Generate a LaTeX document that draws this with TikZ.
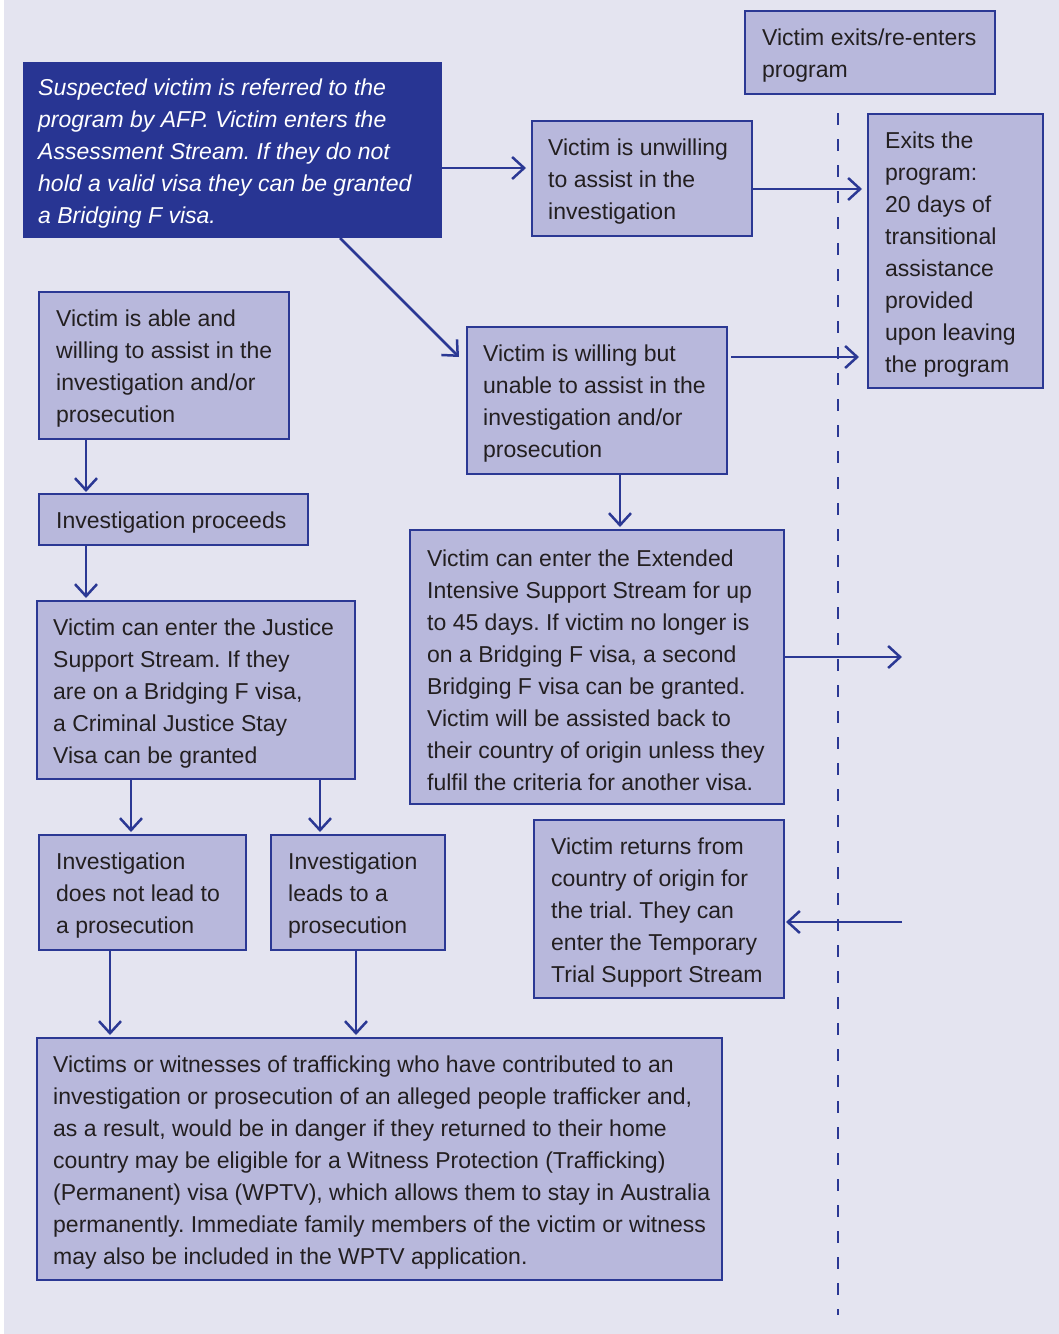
\documentclass[tikz,border=0pt]{standalone}
\usepackage{fontspec}
\setmainfont{Liberation Sans}
\usetikzlibrary{arrows.meta,calc}
\definecolor{bg}{HTML}{E4E4F0}
\definecolor{boxfill}{HTML}{B8B8DC}
\definecolor{dblue}{HTML}{2B3894}
\definecolor{dark}{HTML}{283593}
\definecolor{txt}{HTML}{231F20}
\frenchspacing
\begin{document}
\begin{tikzpicture}[x=1pt,y=-1pt,
  box/.style={draw=dblue, line width=2.5pt, fill=boxfill, anchor=north west, outer sep=0pt, inner sep=0pt},
  darkbox/.style={fill=dark, anchor=north west, outer sep=0pt, inner sep=0pt},
  lbl/.style={anchor=west, align=left, inner sep=0pt, yshift=-3.5pt, text=txt, font=\fontsize{23}{32}\selectfont\frenchspacing},
  dlbl/.style={anchor=west, align=left, inner sep=0pt, yshift=-3.5pt, text=white, font=\fontsize{23}{32}\selectfont\itshape\frenchspacing},
  arr/.style={draw=dblue, line width=2.5pt, -{Straight Barb[length=12pt,width=22pt]}},
  sep/.style={draw=dblue, line width=2pt, dash pattern=on 12pt off 14pt}
]
\useasboundingbox (0,0) rectangle (1059,1334);
\fill[white] (0,0) rectangle (1059,1334);
\fill[bg] (4,0) rectangle (1059,1334);

% boxes
\node[darkbox, minimum width=419pt, minimum height=176pt] (b1) at (23,62) {};
\node[dlbl] (b1t) at ([xshift=15pt]b1.west) {Suspected victim is referred to the\\program by AFP. Victim enters the\\Assessment Stream. If they do not\\hold a valid visa they can be granted\\a Bridging F visa.};

\node[box, minimum width=250pt, minimum height=83pt] (exre) at (745,11) {};
\node[lbl] (exret) at ([xshift=17pt]exre.west) {Victim exits/re-enters\\program};

\node[box, minimum width=220pt, minimum height=115pt] (unw) at (532,121) {};
\node[lbl] (unwt) at ([xshift=16pt]unw.west) {Victim is unwilling\\to assist in the\\investigation};

\node[box, minimum width=175pt, minimum height=274pt] (exits) at (868,114) {};
\node[lbl] (exitst) at ([xshift=17pt]exits.west) {Exits the\\program:\\20 days of\\transitional\\assistance\\provided\\upon leaving\\the program};

\node[box, minimum width=250pt, minimum height=147pt] (able) at (39,292) {};
\node[lbl] (ablet) at ([xshift=17pt]able.west) {Victim is able and\\willing to assist in the\\investigation and/or\\prosecution};

\node[box, minimum width=260pt, minimum height=147pt] (wb) at (467,327) {};
\node[lbl] (wbt) at ([xshift=16pt]wb.west) {Victim is willing but\\unable to assist in the\\investigation and/or\\prosecution};

\node[box, minimum width=269pt, minimum height=51pt] (proc) at (39,494) {};
\node[lbl] (proct) at ([xshift=17pt]proc.west) {Investigation proceeds};

\node[box, minimum width=318pt, minimum height=178pt] (just) at (37,601) {};
\node[lbl] (justt) at ([xshift=16pt]just.west) {Victim can enter the Justice\\Support Stream. If they\\are on a Bridging F visa,\\a Criminal Justice Stay\\Visa can be granted};

\node[box, minimum width=374pt, minimum height=274pt] (ext) at (410,530) {};
\node[lbl] (extt) at ([xshift=17pt]ext.west) {Victim can enter the Extended\\Intensive Support Stream for up\\to 45 days. If victim no longer is\\on a Bridging F visa, a second\\Bridging F visa can be granted.\\Victim will be assisted back to\\their country of origin unless they\\fulfil the criteria for another visa.};

\node[box, minimum width=207pt, minimum height=115pt] (dnl) at (39,835) {};
\node[lbl] (dnlt) at ([xshift=17pt]dnl.west) {Investigation\\does not lead to\\a prosecution};

\node[box, minimum width=174pt, minimum height=115pt] (lead) at (271,835) {};
\node[lbl] (leadt) at ([xshift=17pt]lead.west) {Investigation\\leads to a\\prosecution};

\node[box, minimum width=250pt, minimum height=178pt] (ret) at (534,820) {};
\node[lbl] (rett) at ([xshift=17pt]ret.west) {Victim returns from\\country of origin for\\the trial. They can\\enter the Temporary\\Trial Support Stream};

\node[box, minimum width=685pt, minimum height=242pt] (big) at (37,1038) {};
\node[lbl] (bigt) at ([xshift=16pt]big.west) {Victims or witnesses of trafficking who have contributed to an\\investigation or prosecution of an alleged people trafficker and,\\as a result, would be in danger if they returned to their home\\country may be eligible for a Witness Protection (Trafficking)\\(Permanent) visa (WPTV), which allows them to stay in Australia\\permanently. Immediate family members of the victim or witness\\may also be included in the WPTV application.};

% dashed separator
\coordinate (dtop) at (838,113);
\coordinate (dbot) at (838,1315);
\draw[sep] (dtop) -- (dbot);

% free ends
\coordinate (o1) at (902,657);
\coordinate (o2) at (902,922);

% connectors
\draw[arr, shorten >=6pt] (b1.east |- 0,168) -- (unw.west |- 0,168);
\draw[arr] ($(b1.south west)+(317,0)$) -- ($(wb.north west)+(-8,30)$);
\draw[arr, shorten >=6pt] (unw.east |- 0,189) -- (exits.west |- 0,189);
\draw[arr, shorten <=4pt, shorten >=9pt] (wb.east |- 0,357) -- (exits.west |- 0,357);
\draw[arr, shorten >=3pt] (620,0 |- wb.south) -- (620,0 |- ext.north);
\draw[arr] (ext.east |- o1) -- (o1);
\draw[arr, shorten >=2pt] (o2) -- (ret.east |- o2);
\draw[arr, shorten >=2pt] (86,0 |- able.south) -- (86,0 |- proc.north);
\draw[arr, shorten >=3pt] (86,0 |- proc.south) -- (86,0 |- just.north);
\draw[arr, shorten >=3pt] (131,0 |- just.south) -- (131,0 |- dnl.north);
\draw[arr, shorten >=3pt] (320,0 |- just.south) -- (320,0 |- lead.north);
\draw[arr, shorten >=3pt] (110,0 |- dnl.south) -- (110,0 |- big.north);
\draw[arr, shorten >=3pt] (356,0 |- lead.south) -- (356,0 |- big.north);
\end{tikzpicture}
\end{document}
